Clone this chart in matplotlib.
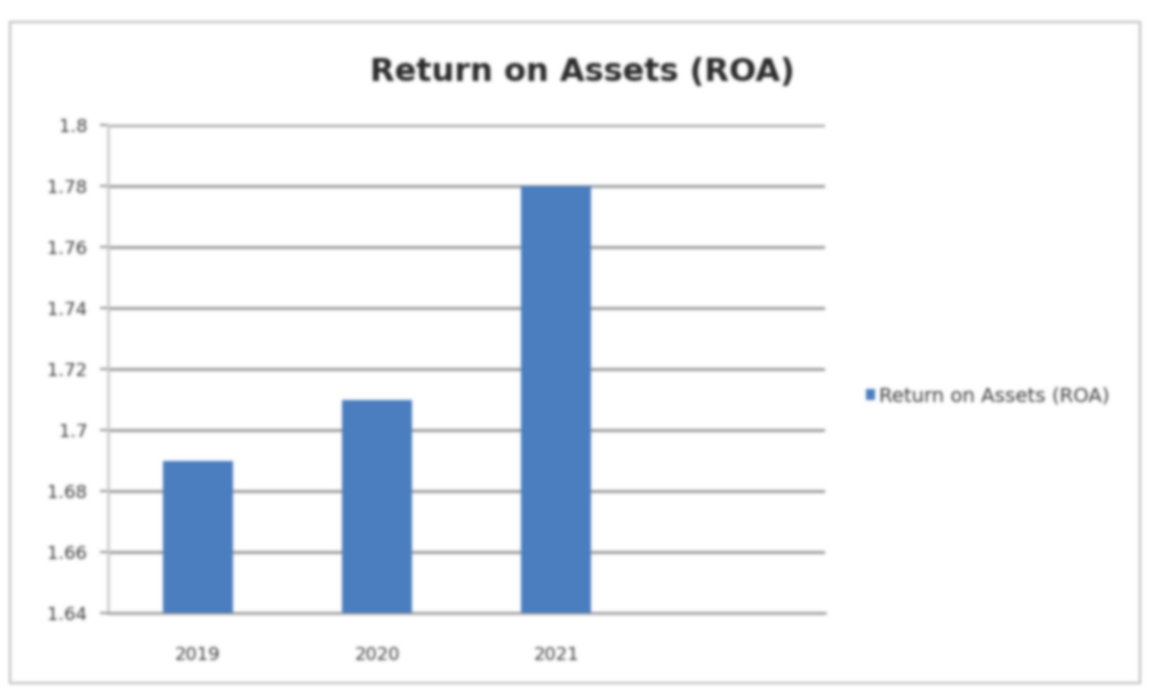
import numpy as np
import matplotlib
matplotlib.use("Agg")
import matplotlib.pyplot as plt
from matplotlib.patches import Rectangle

categories = ["2019", "2020", "2021"]
roa_values = [1.69, 1.71, 1.78]
y_ticks = [1.64, 1.66, 1.68, 1.70, 1.72, 1.74, 1.76, 1.78, 1.80]
series_name = "Return on Assets (ROA)"
title = "Return on Assets (ROA)"

bar_color = "#4A7EBF"
grid_color = "#8A8A8A"
text_color = "#3A3A3A"

W, H = 1157, 693
fig = plt.figure(figsize=(W / 100, H / 100), dpi=100)
fig.patch.set_facecolor("white")

# outer chart border
fig.add_artist(Rectangle((10 / W, 1 - 683 / H), 1130 / W, 661 / H,
                         transform=fig.transFigure, fill=False,
                         edgecolor="#BDBDBD", linewidth=1.5))

ax = fig.add_axes([108 / W, 1 - 613 / H, 717 / W, 488 / H])
x = np.arange(len(categories))
ax.bar(x, roa_values, width=0.39, color=bar_color, label=series_name, zorder=3)

ax.set_xlim(-0.5, 3.5)
ax.set_ylim(y_ticks[0], y_ticks[-1])
ax.set_yticks(y_ticks)
ax.set_yticklabels([f"{v:g}" for v in y_ticks], fontsize=13, color=text_color)
ax.set_xticks(x)
ax.set_xticklabels(categories, fontsize=13, color=text_color)
ax.tick_params(axis="x", length=0, pad=24)
ax.tick_params(axis="y", length=6, width=1.4, color=grid_color, pad=9)

ax.yaxis.grid(True, color=grid_color, linewidth=1.8, zorder=0)
for side in ("top", "right"):
    ax.spines[side].set_visible(False)
ax.spines["left"].set_color("#C8C8C8")
ax.spines["left"].set_linewidth(1.8)
ax.spines["bottom"].set_color("#9A9A9A")
ax.spines["bottom"].set_linewidth(1.8)

fig.text(582 / W, 1 - 73 / H, title, ha="center", va="center",
         fontsize=23, fontweight="bold", color="#2B2B2B")

ax.legend(loc="center left", bbox_to_anchor=(866 / W, 1 - 396 / H),
          bbox_transform=fig.transFigure, frameon=False, fontsize=14.2,
          handlelength=0.45, handleheight=0.45, handletextpad=0.2,
          labelcolor=text_color, borderaxespad=0, borderpad=0)

# render, soften slightly, and write the image
fig.canvas.draw()
img = np.asarray(fig.canvas.buffer_rgba())[..., :3].astype(float) / 255.0

sigma = 1.6
r = int(3 * sigma)
k = np.exp(-0.5 * (np.arange(-r, r + 1) / sigma) ** 2)
k /= k.sum()

def blur_axis(a, axis):
    pad = [(0, 0)] * a.ndim
    pad[axis] = (r, r)
    p = np.pad(a, pad, mode="edge")
    out = np.zeros_like(a)
    n = a.shape[axis]
    for i, w in enumerate(k):
        sl = [slice(None)] * a.ndim
        sl[axis] = slice(i, i + n)
        out += w * p[tuple(sl)]
    return out

img = blur_axis(blur_axis(img, 0), 1)
plt.imsave("out.png", np.clip(img, 0, 1))
